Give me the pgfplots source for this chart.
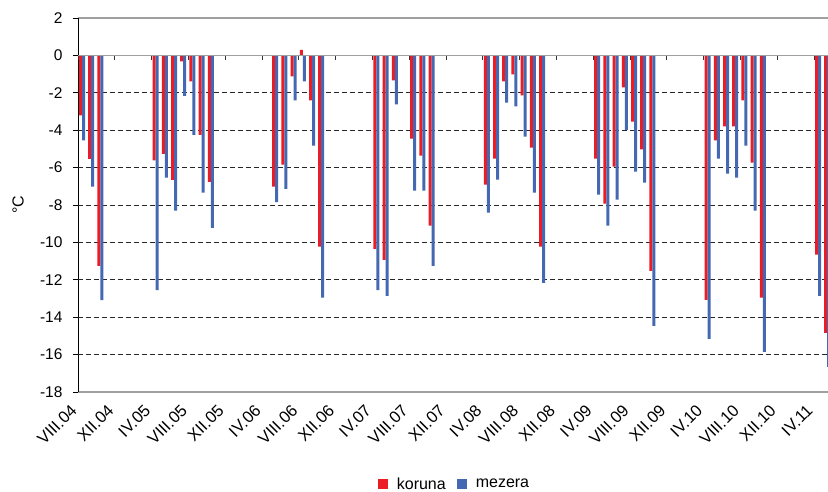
\documentclass[border=0pt]{standalone}
\usepackage{pgfplots}
\pgfplotsset{compat=1.18}
\usepackage{pgfplotstable}
\usepackage{fontspec}
\setmainfont{Liberation Sans}
\definecolor{kred}{RGB}{237,28,36}
\definecolor{kblue}{RGB}{68,104,178}
\definecolor{axgray}{RGB}{160,160,160}

\pgfplotstableread{
k red blue
0 -3.21 -4.55
1 -5.53 -7.02
2 -11.25 -13.09
8 -5.62 -12.55
9 -5.27 -6.53
10 -6.66 -8.30
11 -0.32 -2.16
12 -1.39 -4.25
13 -4.25 -7.34
14 -6.77 -9.23
21 -7.02 -7.84
22 -5.84 -7.14
23 -1.12 -2.41
24 0.30 -1.39
25 -2.41 -4.82
26 -10.23 -12.96
32 -10.34 -12.55
33 -10.93 -12.86
34 -1.34 -2.62
36 -4.45 -7.23
37 -5.36 -7.23
38 -9.10 -11.25
44 -6.91 -8.41
45 -5.52 -6.64
46 -1.39 -2.52
47 -1.02 -2.73
48 -2.14 -4.34
49 -4.93 -7.34
50 -10.23 -12.16
56 -5.52 -7.45
57 -7.93 -9.10
58 -5.95 -7.71
59 -1.71 -4.00
60 -3.54 -6.21
61 -5.03 -6.80
62 -11.52 -14.46
68 -13.07 -15.16
69 -4.55 -5.52
70 -3.80 -6.32
71 -3.80 -6.53
72 -2.41 -4.82
73 -5.73 -8.30
74 -12.96 -15.85
80 -10.66 -12.86
81 -14.84 -16.66
}\data

\pgfplotsset{
  sqlegend/.style={legend image code/.code={\fill[##1] (0pt,-5pt) rectangle (10pt,5pt);}},
}

\begin{document}
\begin{tikzpicture}
\useasboundingbox (-78pt,-100pt) rectangle (750pt,392pt);
\begin{axis}[
  scale only axis, width=750pt, height=374pt,
  xmin=-0.5, xmax=81.02, ymin=-18, ymax=2,
  axis y line*=left,
  x axis line style={draw=axgray, line width=1.3pt},
  y axis line style={-, draw=black, line width=0.8pt},
  clip=true,
  tick align=outside,
  major tick length=5pt,
  ytick={-18,-16,...,2},
  yticklabels={-18,-16,-14,-12,-10,-8,-6,-4,-2,0,2},
  ytick style={draw=black, line width=0.8pt},
  yticklabel style={font=\fontsize{15.5}{18}\selectfont, xshift=-7pt},
  xtick={0,4,...,80},
  xticklabels={VIII.04,XII.04,IV.05,VIII.05,XII.05,IV.06,VIII.06,XII.06,IV.07,VIII.07,XII.07,IV.08,VIII.08,XII.08,IV.09,VIII.09,XII.09,IV.10,VIII.10,XII.10,IV.11},
  xtick style={draw=none},
  xticklabel style={font=\fontsize{16.5}{18}\selectfont, xshift=-13pt, yshift=-5pt, rotate=45, anchor=north east, inner sep=1pt},
  extra y ticks={-16,-14,...,-2},
  extra y tick labels={},
  extra y tick style={grid=major, major grid style={draw=black!85, dash pattern=on 5pt off 3pt, line width=0.8pt}, major tick length=5pt},
  ylabel={°C},
  every axis y label/.style={at={(rel axis cs:-0.08,0.5)}, rotate=90, anchor=center, font=\fontsize{16}{18}\selectfont},
  legend style={at={(0.502,-0.246)}, anchor=center, draw=none, fill=none, legend columns=2,
    font=\fontsize{16}{18}\selectfont,
    /tikz/every even column/.append style={column sep=9pt}},
]
\addplot[ybar, bar width=0.326, bar shift=-0.228, fill=kred, draw=none, sqlegend] table[x=k, y=red] {\data};
\addlegendentry{\hspace{7pt}koruna}
\addplot[ybar, bar width=0.326, bar shift=0.098, fill=kblue, draw=none, sqlegend] table[x=k, y=blue] {\data};
\addlegendentry{\hspace{7pt}mezera}
\end{axis}
\begin{axis}[
  scale only axis, width=750pt, height=374pt,
  xmin=-0.5, xmax=81.02, ymin=-18, ymax=2,
  axis x line=middle, axis y line=none,
  x axis line style={-, draw=axgray, line width=1.3pt},
  xtick={-0.5,3.5,...,79.5},
  xticklabels={},
  ytick=\empty,
  tick align=outside,
  major tick length=5pt,
  xtick style={draw=black!80, line width=0.8pt},
]
\end{axis}
\end{tikzpicture}
\end{document}
